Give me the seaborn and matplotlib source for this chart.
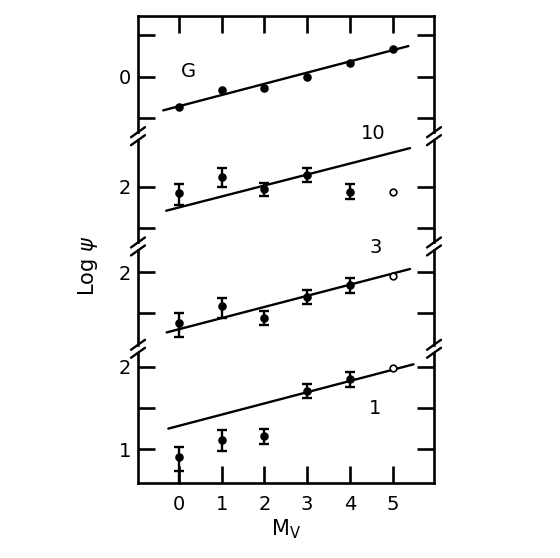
import matplotlib
matplotlib.use("Agg")
import matplotlib.pyplot as plt
import numpy as np
import seaborn as sns
from matplotlib.lines import Line2D

# absolute magnitude bins
mv = [0, 1, 2, 3, 4, 5]

# panel "G"
g_vals = [-0.37, -0.16, -0.14, 0.00, 0.17, 0.34]
g_fit_x = [-0.37, 5.37]
g_fit_y = [-0.41, 0.37]

# panel "10"
p10_vals = [1.92, 2.12, 1.97, 2.14, 1.94]
p10_hi = [2.04, 2.23, 2.05, 2.23, 2.04]
p10_lo = [1.78, 2.00, 1.89, 2.06, 1.85]
p10_open = 1.94
p10_fit_x = [-0.30, 5.41]
p10_fit_y = [1.71, 2.47]

# panel "3"
p3_vals = [1.39, 1.59, 1.45, 1.70, 1.84]
p3_hi = [1.50, 1.69, 1.53, 1.78, 1.93]
p3_lo = [1.22, 1.45, 1.36, 1.62, 1.75]
p3_open = 1.96
p3_fit_x = [-0.29, 5.41]
p3_fit_y = [1.27, 2.04]

# panel "1"
p1_vals = [0.91, 1.11, 1.16, 1.71, 1.85]
p1_hi = [1.03, 1.23, 1.25, 1.79, 1.94]
p1_lo = [0.50, 0.98, 1.06, 1.62, 1.76]
p1_open = 1.98
p1_fit_x = [-0.25, 5.49]
p1_fit_y = [1.25, 2.03]
p1_mark = (0, 0.74)  # small tick on the long lower bar

sns.set_style("white")
plt.rcParams["font.family"] = ["DejaVu Sans"]
plt.rcParams.update({"text.color": "black", "axes.labelcolor": "black",
                     "xtick.color": "black", "ytick.color": "black"})

panels = [
    dict(name="G", vals=g_vals, hi=None, lo=None, opn=None,
         fit=(g_fit_x, g_fit_y), ylim=(-0.675, 0.735),
         ticks=[-0.5, 0, 0.5], lab=(0.23, 0.06)),
    dict(name="10", vals=p10_vals, hi=p10_hi, lo=p10_lo, opn=p10_open,
         fit=(p10_fit_x, p10_fit_y), ylim=(1.325, 2.566),
         ticks=[1.5, 2], lab=(4.54, 2.65)),
    dict(name="3", vals=p3_vals, hi=p3_hi, lo=p3_lo, opn=p3_open,
         fit=(p3_fit_x, p3_fit_y), ylim=(1.12, 2.265),
         ticks=[1.5, 2], lab=(4.61, 2.30)),
    dict(name="1", vals=p1_vals, hi=p1_hi, lo=p1_lo, opn=p1_open,
         fit=(p1_fit_x, p1_fit_y), ylim=(0.59, 2.17),
         ticks=[1, 1.5, 2], lab=(4.59, 1.49)),
]

W, H = 560, 558
fig = plt.figure(figsize=(W / 100, H / 100), dpi=100)
ratios = [p["ylim"][1] - p["ylim"][0] for p in panels]
gs = fig.add_gridspec(4, 1, height_ratios=ratios, hspace=0.072,
                      left=138 / W, right=434 / W, top=1 - 16 / H, bottom=1 - 483 / H)

lw = 1.9
fs = 14
axes = []
for i, p in enumerate(panels):
    ax = fig.add_subplot(gs[i])
    axes.append(ax)
    ax.set_xlim(-0.96, 5.97)
    ax.set_ylim(*p["ylim"])

    sns.lineplot(x=p["fit"][0], y=p["fit"][1], ax=ax, color="black", lw=1.7)

    n = len(p["vals"])
    xs = mv[:n]
    if p["hi"] is not None:
        v = np.array(p["vals"])
        err = [v - np.array(p["lo"]), np.array(p["hi"]) - v]
        ax.errorbar(xs, v, yerr=err, fmt="none", ecolor="black",
                    elinewidth=1.7, capsize=3.5, capthick=1.7)
    sns.scatterplot(x=xs, y=p["vals"], ax=ax, color="black", s=38,
                    linewidth=0, zorder=3)
    if p["opn"] is not None:
        ax.plot(mv[5], p["opn"], "o", mfc="white", mec="black", ms=4.8,
                mew=1.2, zorder=3)

    ax.text(p["lab"][0], p["lab"][1], p["name"], fontsize=fs, ha="center",
            va="center", clip_on=False)

    for s in ax.spines.values():
        s.set_linewidth(lw)
        s.set_color("black")
    if i > 0:
        ax.spines["top"].set_visible(False)
    if i < 3:
        ax.spines["bottom"].set_visible(False)

    ax.set_yticks(p["ticks"])
    ax.set_yticklabels([str(int(t)) if float(t).is_integer() else "" for t in p["ticks"]])
    ax.tick_params(axis="y", direction="in", length=12, width=lw, left=True,
                   right=True, labelsize=fs, pad=5)
    ax.set_xticks(mv)
    ax.tick_params(axis="x", direction="in", length=12, width=lw,
                   top=(i == 0), bottom=(i == 3), labelbottom=(i == 3),
                   labeltop=False, labelsize=fs, pad=9)
    ax.set_xlabel("")
    ax.set_ylabel("")

axes[3].set_xlabel(r"M$_\mathrm{V}$", fontsize=15, labelpad=2)
fig.text(88 / W, 1 - 266 / H, r"Log $\psi$", rotation=90, fontsize=15,
         ha="center", va="center")

# extra short tick on the lower-limit bar in panel "1"
axes[3].plot(p1_mark[0], p1_mark[1], marker="_", color="black", ms=7, mew=1.7)

# axis-break marks on both spines between panels
for upper, lower in zip(axes[:-1], axes[1:]):
    y_top = upper.get_position().y0 * H
    y_bot = lower.get_position().y1 * H
    for xpx in (138, 434):
        for ypx in (y_top, y_bot):
            fig.add_artist(Line2D([(xpx - 7) / W, (xpx + 7) / W],
                                  [(ypx - 5) / H, (ypx + 5) / H],
                                  transform=fig.transFigure, color="black", lw=1.7))

fig.savefig("out.png", dpi=100)
